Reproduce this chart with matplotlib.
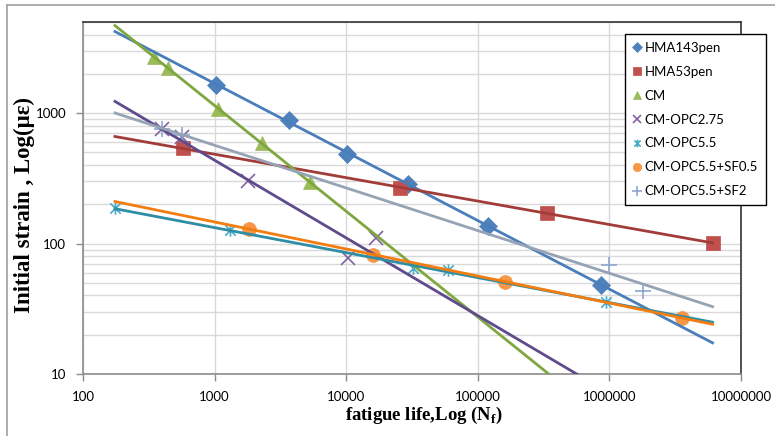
import matplotlib
matplotlib.use("Agg")
import matplotlib.pyplot as plt
import numpy as np
from matplotlib.path import Path
from matplotlib.lines import Line2D

plt.rcParams['mathtext.fontset'] = 'custom'
plt.rcParams['mathtext.rm'] = 'Liberation Serif:bold'
plt.rcParams['mathtext.bf'] = 'Liberation Serif:bold'

# fatigue life N_f and initial strain (micro strain) for each mix
hma143_n = [1030, 3700, 10200, 29700, 119000, 860000]
hma143_e = [1640, 884, 484, 285, 137, 48.5]

hma53_n = [577, 25800, 334000, 6080000]
hma53_e = [538, 265, 173, 101]

cm_n = [347, 443, 1064, 2300, 5330]
cm_e = [2700, 2220, 1073, 588, 294]

opc275_n = [400, 566, 1780, 10400, 16700]
opc275_e = [753, 653, 300, 77, 110]

opc55_n = [175, 1320, 32000, 59000, 940000]
opc55_e = [186, 126, 65, 63, 35.8]

sf05_n = [1830, 15900, 160000, 3560000]
sf05_e = [130, 82, 51, 27]

sf2_n = [400, 570, 1000000, 1800000]
sf2_e = [760, 680, 68, 43]

labels = ['HMA143pen', 'HMA53pen', 'CM', 'CM-OPC2.75', 'CM-OPC5.5',
          'CM-OPC5.5+SF0.5', 'CM-OPC5.5+SF2']

# excel style "star": X with a vertical bar
star = Path([(-1, -1), (1, 1), (-1, 1), (1, -1), (0, -1.2), (0, 1.2)],
            [Path.MOVETO, Path.LINETO, Path.MOVETO, Path.LINETO, Path.MOVETO, Path.LINETO])

series = [
    (hma143_n, hma143_e, 'D', 9, '#4F81BD', '#4A7EBB'),
    (hma53_n, hma53_e, 's', 10.5, '#C0504D', '#A23C39'),
    (cm_n, cm_e, '^', 10, '#9BBB59', '#7FA740'),
    (opc275_n, opc275_e, 'x', 10, '#8064A2', '#5F4B8B'),
    (opc55_n, opc55_e, star, 9, '#4BACC6', '#2E8EA5'),
    (sf05_n, sf05_e, 'o', 10, '#F79646', '#F27D10'),
    (sf2_n, sf2_e, '+', 11, '#8EA5D0', '#96A3B4'),
]

all_n = hma143_n + hma53_n + cm_n + opc275_n + opc55_n + sf05_n + sf2_n
xs = np.logspace(np.log10(min(all_n)), np.log10(max(all_n)), 60)

W, H = 775, 436
fig = plt.figure(figsize=(7.75, 4.36), dpi=100)
ax = fig.add_axes([83 / W, 1 - 374 / H, (741 - 83) / W, (374 - 22) / H])

handles = []
for (n, e, mk, ms, mc, lc), lab in zip(series, labels):
    h, = ax.plot(n, e, linestyle='none', marker=mk, markersize=ms, color=mc,
                 markeredgewidth=1.2 if mk in ('x', '+') or mk is star else 0.5,
                 label=lab, zorder=3)
    handles.append(h)
    # power-law trendline fitted in log-log space
    b, a = np.polyfit(np.log10(n), np.log10(e), 1)
    ax.plot(xs, 10 ** (a + b * np.log10(xs)), color=lc, lw=2, zorder=4)

ax.set_xscale('log')
ax.set_yscale('log')
ax.set_xlim(100, 1e7)
ax.set_ylim(10, 5000)

ax.set_xticks([100, 1000, 10000, 100000, 1000000, 10000000])
ax.set_xticklabels(['100', '1000', '10000', '100000', '1000000', '10000000'])
ax.set_yticks([10, 100, 1000])
ax.set_yticklabels(['10', '100', '1000'])
ax.xaxis.set_minor_locator(plt.NullLocator())
ax.yaxis.set_minor_locator(matplotlib.ticker.LogLocator(base=10, subs=np.arange(2, 10)))
ax.yaxis.set_minor_formatter(plt.NullFormatter())

ax.grid(True, which='major', axis='both', color='#D9D9D9', lw=1)
ax.grid(True, which='minor', axis='y', color='#D9D9D9', lw=1)
ax.set_axisbelow(True)

ax.tick_params(axis='both', which='major', length=5, width=1, color='#8C8C8C',
               labelsize=9.5, pad=7)
ax.tick_params(axis='y', which='minor', length=0)
for t in ax.get_xticklabels() + ax.get_yticklabels():
    t.set_fontfamily('Lato')

for s in ['left', 'bottom']:
    ax.spines[s].set_color('#8C8C8C')
    ax.spines[s].set_linewidth(1.2)
for s in ['top', 'right']:
    ax.spines[s].set_color('#333333')
    ax.spines[s].set_linewidth(1.2)

# axis titles placed as figure text, sized to the reference extents
ylab = fig.text(24.5 / W, 1 - 204.5 / H, 'Initial strain , Log(με)', rotation=90,
                ha='center', va='center', fontfamily='Liberation Serif',
                fontweight='bold', fontsize=12)
xlab = fig.text(424 / W, 1 - 415 / H, 'fatigue life,Log (N$_\\mathrm{f}$)',
                ha='center', va='center', fontfamily='Liberation Serif',
                fontweight='bold', fontsize=12)
r = fig.canvas.get_renderer()
ylab.set_fontsize(12 * 215 / ylab.get_window_extent(r).height)
xlab.set_fontsize(12 * 158 / xlab.get_window_extent(r).width)

leg = fig.legend(handles=handles, loc='upper left', bbox_to_anchor=(625 / W, 1 - 34 / H),
                 frameon=True, fancybox=False, edgecolor='black', framealpha=1,
                 prop={'family': 'Lato', 'size': 9.5}, markerscale=0.6,
                 handlelength=0.6, handletextpad=0.3, labelspacing=0.9,
                 borderpad=0.6, borderaxespad=0)
leg.get_frame().set_linewidth(1.0)

# outer chart border (left and top visible)
fig.add_artist(Line2D([7 / W, 7 / W], [0.0, 1 - 5 / H], color='#A0A0A0', lw=1.2))
fig.add_artist(Line2D([7 / W, 1.0], [1 - 5 / H, 1 - 5 / H], color='#A0A0A0', lw=1.2))

fig.savefig('out.png', dpi=100)
